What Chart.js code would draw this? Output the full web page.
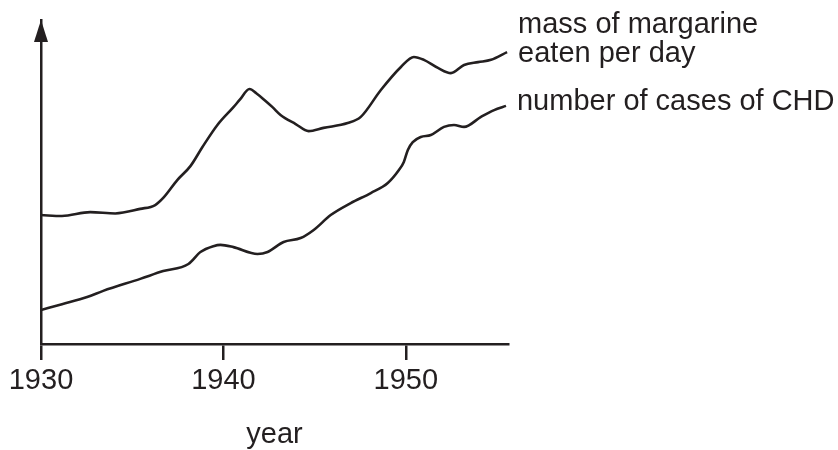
<!DOCTYPE html>
<html>
<head>
<meta charset="utf-8">
<script src="https://cdn.jsdelivr.net/npm/chart.js@4"></script>
<style>
  html, body { margin: 0; padding: 0; background: #fff; }
  #wrap { width: 838px; height: 450px; }
</style>
</head>
<body>
<div id="wrap"><canvas id="chart"></canvas></div>
<script>
const ink = "#231f20";
const font = "'Liberation Sans', Arial, sans-serif";

// years and values (y in arbitrary units, 0-100)
const margarineYears = [1930, 1931.15, 1932.7, 1934.07, 1935.44, 1936.26, 1936.7, 1937.47, 1938.19, 1938.85, 1939.67, 1940.55, 1940.9, 1941.43, 1941.8, 1942.31, 1942.69, 1943.13, 1943.96, 1944.67, 1945.49, 1946.81, 1947.53, 1948.63, 1949.73, 1950.44, 1950.99, 1951.76, 1952.47, 1953.19, 1953.96, 1954.67, 1955.55];
const margarineValues = [39.8, 39.5, 40.7, 40.3, 41.7, 42.9, 45.1, 50.6, 54.9, 60.8, 67.6, 73.1, 75.4, 78.7, 77.4, 75.0, 73.1, 70.7, 67.9, 65.7, 66.7, 68.2, 70.1, 78.4, 85.5, 88.6, 87.7, 85.2, 83.6, 86.1, 87.0, 87.7, 90.1];

const chdYears = [1930, 1931.15, 1932.53, 1933.41, 1935.44, 1936.7, 1938.08, 1938.74, 1939.45, 1939.84, 1940.55, 1941.87, 1942.42, 1943.3, 1944.23, 1944.95, 1945.88, 1946.98, 1948.08, 1949.01, 1949.62, 1949.89, 1950.11, 1950.38, 1950.82, 1951.37, 1952.09, 1952.64, 1953.19, 1954.12, 1954.84, 1955.49];
const chdValues = [10.5, 12.3, 14.5, 16.4, 20.1, 22.5, 24.7, 28.4, 30.2, 30.6, 29.9, 27.8, 28.4, 31.5, 32.7, 35.2, 39.8, 43.5, 46.6, 49.7, 53.7, 56.2, 59.9, 62.3, 63.9, 64.5, 67.0, 67.6, 67.0, 70.1, 72.2, 73.5];

const tickYears = [1930, 1940, 1950];
const seriesLabels = [["mass of margarine", "eaten per day"], ["number of cases of CHD"]];

function toPoints(xs, ys) {
  return xs.map((x, i) => ({ x: x, y: ys[i] }));
}

// arrow head on the y axis and the labels at the end of each line
const extras = {
  id: "extras",
  afterDraw(chart) {
    const ctx = chart.ctx;
    const area = chart.chartArea;
    const ax = chart.scales.x.getPixelForValue(1930);
    ctx.save();
    ctx.fillStyle = ink;
    ctx.beginPath();
    ctx.moveTo(ax, area.top);
    ctx.lineTo(ax + 7, area.top + 22);
    ctx.lineTo(ax - 7, area.top + 22);
    ctx.closePath();
    ctx.fill();

    ctx.font = "29px " + font;
    ctx.textAlign = "left";
    ctx.textBaseline = "alphabetic";
    chart.data.datasets.forEach((ds, i) => {
      const meta = chart.getDatasetMeta(i);
      const last = meta.data[meta.data.length - 1];
      const lines = seriesLabels[i];
      const x = last.x + 11;
      let y = lines.length > 1 ? last.y + 10 - 29 * (lines.length - 1) : last.y + 4;
      lines.forEach((t) => {
        ctx.fillText(t, x, y);
        y += 29;
      });
    });
    ctx.restore();
  }
};

new Chart(document.getElementById("chart"), {
  type: "line",
  data: {
    datasets: [
      {
        label: seriesLabels[0].join(" "),
        data: toPoints(margarineYears, margarineValues),
        borderColor: ink,
        borderWidth: 2.6,
        pointRadius: 0,
        cubicInterpolationMode: "monotone",
        fill: false,
      },
      {
        label: seriesLabels[1].join(" "),
        data: toPoints(chdYears, chdValues),
        borderColor: ink,
        borderWidth: 2.6,
        pointRadius: 0,
        cubicInterpolationMode: "monotone",
        fill: false,
      },
    ],
  },
  options: {
    responsive: true,
    maintainAspectRatio: false,
    animation: false,
    layout: { padding: { left: 41, right: 330, top: 20, bottom: 0 } },
    plugins: { legend: { display: false }, tooltip: { enabled: false } },
    scales: {
      x: {
        type: "linear",
        min: 1930,
        max: 1955.6,
        afterBuildTicks: (scale) => {
          scale.ticks = tickYears.map((v) => ({ value: v }));
        },
        afterFit: (scale) => {
          scale.height = 106;
        },
        ticks: {
          color: ink,
          font: { family: font, size: 29 },
          padding: 4,
          maxRotation: 0,
          callback: (v) => String(v),
        },
        grid: {
          drawOnChartArea: false,
          drawTicks: true,
          tickLength: 16,
          color: ink,
          lineWidth: 2.5,
        },
        border: { display: true, color: ink, width: 2.5 },
        title: {
          display: true,
          text: "year",
          color: ink,
          font: { family: font, size: 29, lineHeight: 1.05 },
          padding: { top: 0, bottom: 0 },
        },
      },
      y: {
        min: 0,
        max: 100,
        afterFit: (scale) => {
          scale.width = 0;
        },
        ticks: { display: false },
        grid: { display: false },
        border: { display: true, color: ink, width: 2.5 },
      },
    },
  },
  plugins: [extras],
});
</script>
</body>
</html>
